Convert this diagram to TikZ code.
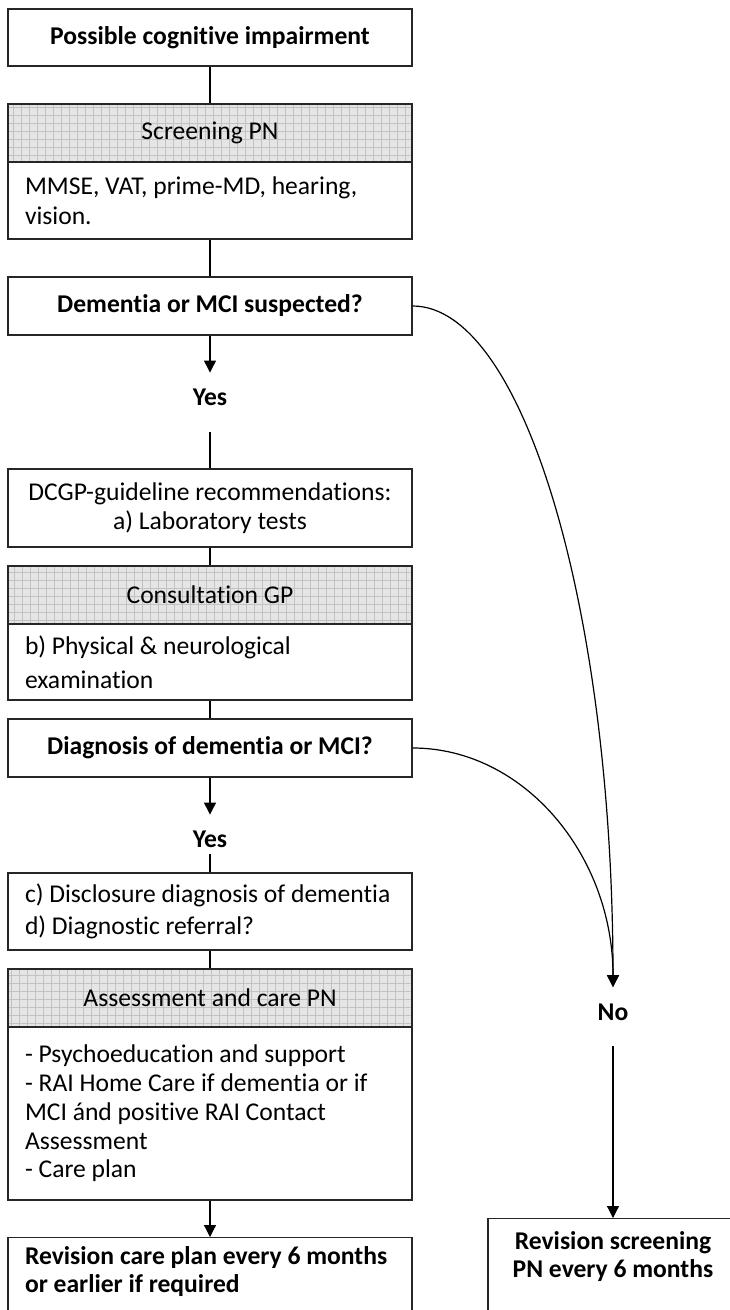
\documentclass[tikz,border=0pt]{standalone}
\usepackage{fontspec}
\setmainfont{Carlito}[Ligatures=NoCommon]
\usetikzlibrary{arrows.meta}
\begin{document}
\begin{tikzpicture}[x=1pt,y=-1pt,
  txt/.style={font=\fontsize{25.6}{#1}\selectfont},
  txt/.default=30,
  btxt/.style={font=\fontsize{25.6}{#1}\selectfont\bfseries},
  btxt/.default=30,
  framebox/.style={draw=black!85,line width=1.4pt,minimum width=404pt,inner sep=0pt,align=center},
  boldbox/.style={framebox,btxt},
  plainbox/.style={framebox,txt=#1},
  plainbox/.default=30,
  headbox/.style={plainbox,fill=black!10,
    path picture={\draw[black!24,line width=0.6pt,step=8pt]
      (path picture bounding box.south west) grid (path picture bounding box.north east);}},
  bodybox/.style={draw=black!85,line width=1.4pt,txt=#1,text width=370pt,inner xsep=17pt,inner ysep=0pt,align=flush left},
  bodybox/.default=30,
  label/.style={btxt,inner sep=0pt,text height=33pt},
  conn/.style={line width=1.2pt,black},
  arr/.style={conn,-{Triangle[length=12pt,width=12pt]}}
]
\useasboundingbox (0,0) rectangle (729,1310);
\fill[white] (0,0) rectangle (729,1310);

\node[boldbox,minimum height=57pt] (start) at (210,37.5) {Possible cognitive impairment};
\node[bodybox=30,minimum height=77pt] (scrB) at (210,200.5) {MMSE, VAT, prime-MD, hearing,\\vision.};
\node[headbox,minimum height=58pt] (scrH) at (210,133) {Screening PN};
\node[boldbox,minimum height=58pt] (dem) at (210,306) {Dementia or MCI suspected?};
\node[label,text depth=26.5pt] (yes1) at (210,402.5) {Yes};
\node[plainbox=29,minimum height=78pt] (dcgp) at (210,508) {DCGP-guideline recommendations:\\a) Laboratory tests};
\node[bodybox=34,minimum height=76pt] (conB) at (210,662) {b) Physical \& neurological\\examination};
\node[headbox,minimum height=58pt] (conH) at (210,595) {Consultation GP};
\node[boldbox,minimum height=58pt] (diag) at (210,748) {Diagnosis of dementia or MCI?};
\node[label,text depth=6.5pt] (yes2) at (210,834.5) {Yes};
\node[bodybox=32,minimum height=77pt] (disc) at (210,911.5) {c) Disclosure diagnosis of dementia\\d) Diagnostic referral?};
\node[bodybox=28.7,minimum height=173pt] (assB) at (210,1113.5) {- Psychoeducation and support\\- RAI Home Care if dementia or if\\MCI ánd positive RAI Contact\\Assessment\\- Care plan};
\node[headbox,minimum height=58pt] (assH) at (210,998) {Assessment and care PN};
\node[draw=black!85,line width=1.4pt,btxt=27.5,text width=370pt,inner xsep=17pt,inner ysep=4pt,align=flush left,text height=23pt,text depth=100pt,anchor=north] (revL) at (210,1237) {Revision care plan every 6 months\\or earlier if required};
\node[label,text depth=25.5pt] (no) at (613,1016.5) {No};
\node[draw=black!85,line width=1.4pt,btxt=28,text width=250pt,inner xsep=0pt,inner ysep=4pt,align=flush center,text height=27pt,text depth=100pt,anchor=north] (revR) at (613,1218) {Revision screening\\PN every 6 months};

\draw[conn] (start) -- (scrH);
\draw[conn] (scrB) -- (dem);
\draw[arr] (dem) -- (yes1);
\draw[conn] (yes1) -- (dcgp);
\draw[conn] (dcgp) -- (conH);
\draw[conn] (conB) -- (diag);
\draw[arr] (diag) -- (yes2);
\draw[conn] (yes2) -- (disc);
\draw[conn] (disc) -- (assH);
\draw[arr] (assB) -- (revL);
\draw[arr] (dem.east) .. controls +(111,0) and +(0,-376) .. (no.north);
\draw[arr] (diag.east) .. controls +(111,0) and +(0,-132) .. (no.north);
\draw[arr] (no) -- (revR);
\end{tikzpicture}
\end{document}
